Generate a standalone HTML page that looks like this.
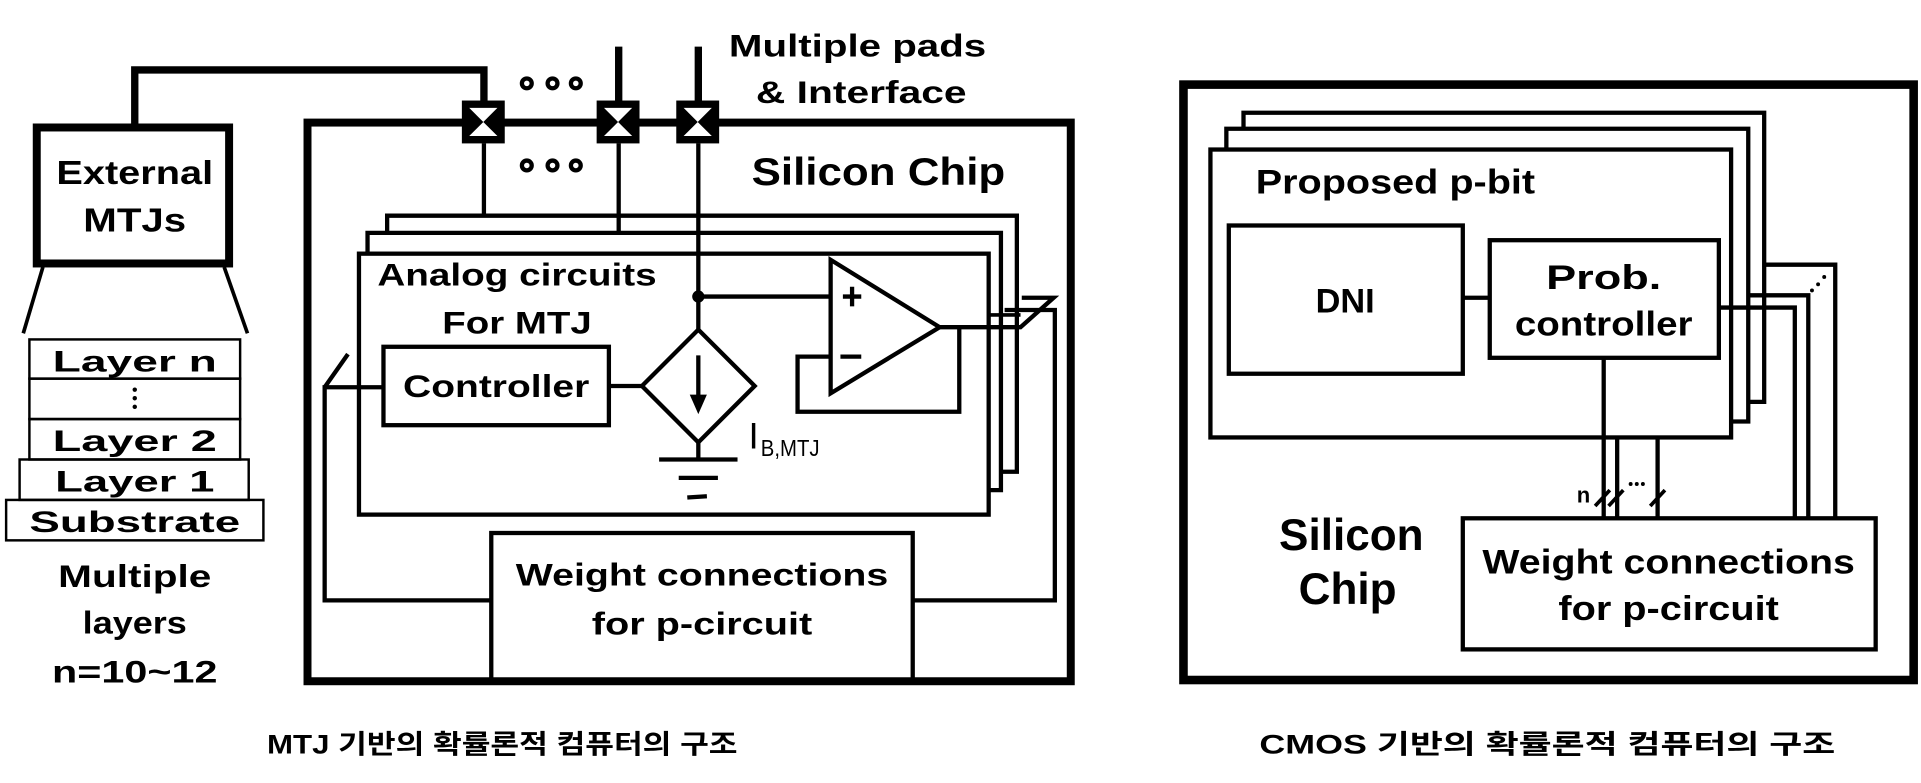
<!DOCTYPE html>
<html><head><meta charset="utf-8"><style>
html,body{margin:0;padding:0;background:#fff;}
svg{display:block;}
text{font-family:"Liberation Sans","Noto Sans CJK KR",sans-serif;font-weight:bold;fill:#000;}
</style></head><body>
<svg width="1921" height="783" viewBox="0 0 1568 639" xmlns="http://www.w3.org/2000/svg">
<g fill="none" stroke="#000" stroke-linejoin="miter">
<polyline points="110,102 110,57 395,57 395,84" stroke-width="6"/>
<line x1="505" y1="38" x2="505" y2="84" stroke-width="6"/>
<line x1="570" y1="38" x2="570" y2="84" stroke-width="6"/>
<rect x="30" y="104" width="157" height="111" stroke-width="6.5"/>
<line x1="35" y1="218" x2="19" y2="272" stroke-width="3"/>
<line x1="183" y1="218" x2="202" y2="272" stroke-width="3"/>
<rect x="24" y="277" width="172" height="32" stroke-width="2"/>
<rect x="24" y="309" width="172" height="33" stroke-width="2"/>
<rect x="24" y="342" width="172" height="33" stroke-width="2"/>
<rect x="16" y="375" width="187" height="33" stroke-width="2"/>
<rect x="5" y="408" width="210" height="33" stroke-width="2"/>
<rect x="251" y="100" width="623" height="456" stroke-width="6.5"/>
<polyline points="316,190 316,176 830,176 830,385 817,385" stroke-width="3.5"/>
<polyline points="300,207 300,190 817,190 817,400 806,400" stroke-width="3.5"/>
<rect x="293" y="207" width="514" height="213" stroke-width="3.5"/>
<line x1="395" y1="117" x2="395" y2="176" stroke-width="3.5"/>
<line x1="505" y1="117" x2="505" y2="190" stroke-width="3.5"/>
<line x1="570" y1="117" x2="570" y2="269" stroke-width="3.5"/>
<line x1="570" y1="242" x2="678" y2="242" stroke-width="3.5"/>
<polygon points="678,212 678,321 767,267" stroke-width="3.5"/>
<line x1="688" y1="242" x2="703" y2="242" stroke-width="3.5"/>
<line x1="695.5" y1="234" x2="695.5" y2="250" stroke-width="3.5"/>
<line x1="686" y1="291" x2="703" y2="291" stroke-width="3.5"/>
<polyline points="678,291 651,291 651,336 783,336 783,267" stroke-width="3.5"/>
<polyline points="767,267 833,267 860,243 834,243" stroke-width="3.5"/>
<polyline points="808,257 833,257" stroke-width="3"/>
<polyline points="820,253 861,253 861,490 745,490" stroke-width="3.5"/>
<rect x="401" y="435" width="344" height="121" stroke-width="3.5"/>
<polyline points="401,490 265,490 265,316 312,316" stroke-width="3.5"/>
<line x1="265" y1="316" x2="284" y2="289" stroke-width="3.5"/>
<rect x="313" y="283" width="184" height="64" stroke-width="3.5"/>
<line x1="497" y1="315" x2="524" y2="315" stroke-width="3.5"/>
<polygon points="570,269 616,315 570,361 524,315" stroke-width="3.5"/>
<line x1="570" y1="290" x2="570" y2="325" stroke-width="3.5"/>
<line x1="570" y1="361" x2="570" y2="375" stroke-width="3.5"/>
<line x1="538" y1="375" x2="602" y2="375" stroke-width="3.5"/>
<line x1="554" y1="390" x2="586" y2="390" stroke-width="3.5"/>
<line x1="561" y1="406" x2="577" y2="405" stroke-width="3.5"/>
<circle cx="430" cy="68" r="4" stroke-width="3.5"/>
<circle cx="451" cy="68" r="4" stroke-width="3.5"/>
<circle cx="470" cy="68" r="4" stroke-width="3.5"/>
<circle cx="430" cy="135" r="4" stroke-width="3.5"/>
<circle cx="451" cy="135" r="4" stroke-width="3.5"/>
<circle cx="470" cy="135" r="4" stroke-width="3.5"/>
</g>
<polygon points="563,322 577,322 570,338" fill="#000"/>
<circle cx="570" cy="242" r="5" fill="#000"/>
<g>
<rect x="377" y="82" width="35" height="35" fill="#000"/>
<rect x="487" y="82" width="35" height="35" fill="#000"/>
<rect x="552" y="82" width="35" height="35" fill="#000"/>
<g fill="#fff">
<polygon points="383,88 406,88 394.5,99.5"/><polygon points="383,111 406,111 394.5,99.5"/>
<polygon points="493,88 516,88 504.5,99.5"/><polygon points="493,111 516,111 504.5,99.5"/>
<polygon points="558,88 581,88 569.5,99.5"/><polygon points="558,111 581,111 569.5,99.5"/>
</g>
</g>
<circle cx="110" cy="318" r="1.8" fill="#000"/><circle cx="110" cy="325" r="1.8" fill="#000"/><circle cx="110" cy="332" r="1.8" fill="#000"/>

<text x="110" y="150" font-size="27" text-anchor="middle" textLength="128" lengthAdjust="spacingAndGlyphs">External</text>
<text x="110" y="189" font-size="27" text-anchor="middle" textLength="84" lengthAdjust="spacingAndGlyphs">MTJs</text>
<text x="110" y="303" font-size="24" text-anchor="middle" textLength="134" lengthAdjust="spacingAndGlyphs">Layer n</text>
<text x="110" y="368" font-size="24" text-anchor="middle" textLength="134" lengthAdjust="spacingAndGlyphs">Layer 2</text>
<text x="110" y="401" font-size="24" text-anchor="middle" textLength="130" lengthAdjust="spacingAndGlyphs">Layer 1</text>
<text x="110" y="434" font-size="24" text-anchor="middle" textLength="172" lengthAdjust="spacingAndGlyphs">Substrate</text>
<text x="110" y="479" font-size="26" text-anchor="middle" textLength="125" lengthAdjust="spacingAndGlyphs">Multiple</text>
<text x="110" y="517" font-size="26" text-anchor="middle" textLength="85" lengthAdjust="spacingAndGlyphs">layers</text>
<text x="110" y="557" font-size="26" text-anchor="middle" textLength="135" lengthAdjust="spacingAndGlyphs">n=10~12</text>
<text x="700" y="46" font-size="26" text-anchor="middle" textLength="210" lengthAdjust="spacingAndGlyphs">Multiple pads</text>
<text x="703" y="84" font-size="26" text-anchor="middle" textLength="172" lengthAdjust="spacingAndGlyphs">&amp; Interface</text>
<text x="717" y="151" font-size="32" text-anchor="middle" textLength="207" lengthAdjust="spacingAndGlyphs">Silicon Chip</text>
<text x="422" y="233" font-size="26" text-anchor="middle" textLength="228" lengthAdjust="spacingAndGlyphs">Analog circuits</text>
<text x="422" y="272" font-size="26" text-anchor="middle" textLength="122" lengthAdjust="spacingAndGlyphs">For MTJ</text>
<text x="405" y="324" font-size="26" text-anchor="middle" textLength="152" lengthAdjust="spacingAndGlyphs">Controller</text>
<text x="611" y="366" font-size="30" style="font-weight:normal">I</text>
<text x="621" y="372" font-size="19" style="font-weight:normal" textLength="48" lengthAdjust="spacingAndGlyphs">B,MTJ</text>
<text x="573" y="478" font-size="26" text-anchor="middle" textLength="304" lengthAdjust="spacingAndGlyphs">Weight connections</text>
<text x="573" y="518" font-size="26" text-anchor="middle" textLength="180" lengthAdjust="spacingAndGlyphs">for p-circuit</text>
<text x="410" y="615" font-size="22" text-anchor="middle" textLength="384" lengthAdjust="spacingAndGlyphs">MTJ 기반의 확률론적 컴퓨터의 구조</text>

<g fill="none" stroke="#000">
<rect x="966" y="69" width="596" height="486" stroke-width="7"/>
<polyline points="1015,105 1015,92 1440,92 1440,328 1427,328" stroke-width="3.5"/>
<polyline points="1001,122 1001,105 1427,105 1427,344 1413,344" stroke-width="3.5"/>
<rect x="988" y="122" width="425" height="235" stroke-width="3.5"/>
<rect x="1003" y="184" width="191" height="121" stroke-width="3.5"/>
<rect x="1216" y="196" width="187" height="96" stroke-width="3.5"/>
<line x1="1194" y1="243" x2="1216" y2="243" stroke-width="3.5"/>
<line x1="1309" y1="292" x2="1309" y2="423" stroke-width="3.5"/>
<line x1="1320" y1="357" x2="1320" y2="423" stroke-width="3.5"/>
<line x1="1353" y1="357" x2="1353" y2="423" stroke-width="3.5"/>
<polyline points="1440,216 1498,216 1498,423" stroke-width="3.5"/>
<polyline points="1427,241 1476,241 1476,423" stroke-width="3.5"/>
<polyline points="1403,251 1465,251 1465,423" stroke-width="3.5"/>
<rect x="1194" y="423" width="337" height="107" stroke-width="3.5"/>
<line x1="1302" y1="413" x2="1314" y2="400" stroke-width="3"/>
<line x1="1313" y1="413" x2="1325" y2="400" stroke-width="3"/>
<line x1="1347" y1="413" x2="1359" y2="400" stroke-width="3"/>
</g>
<g fill="#000">
<circle cx="1331" cy="395" r="1.6"/><circle cx="1336" cy="395" r="1.6"/><circle cx="1341" cy="395" r="1.6"/>
<circle cx="1479" cy="237" r="1.6"/><circle cx="1484" cy="232" r="1.6"/><circle cx="1489" cy="226" r="1.6"/>
</g>
<text x="1025" y="158" font-size="28" textLength="228" lengthAdjust="spacingAndGlyphs">Proposed p-bit</text>
<text x="1098" y="255" font-size="28" text-anchor="middle">DNI</text>
<text x="1309" y="236" font-size="28" text-anchor="middle" textLength="94" lengthAdjust="spacingAndGlyphs">Prob.</text>
<text x="1309" y="274" font-size="28" text-anchor="middle" textLength="145" lengthAdjust="spacingAndGlyphs">controller</text>
<text x="1287" y="410" font-size="18">n</text>
<text x="1103" y="449" font-size="36" text-anchor="middle" textLength="118" lengthAdjust="spacingAndGlyphs">Silicon</text>
<text x="1100" y="493" font-size="36" text-anchor="middle" textLength="80" lengthAdjust="spacingAndGlyphs">Chip</text>
<text x="1362" y="468" font-size="28" text-anchor="middle" textLength="304" lengthAdjust="spacingAndGlyphs">Weight connections</text>
<text x="1362" y="506" font-size="28" text-anchor="middle" textLength="180" lengthAdjust="spacingAndGlyphs">for p-circuit</text>
<text x="1263" y="615" font-size="22" text-anchor="middle" textLength="470" lengthAdjust="spacingAndGlyphs">CMOS 기반의 확률론적 컴퓨터의 구조</text>
</svg>
</body></html>
